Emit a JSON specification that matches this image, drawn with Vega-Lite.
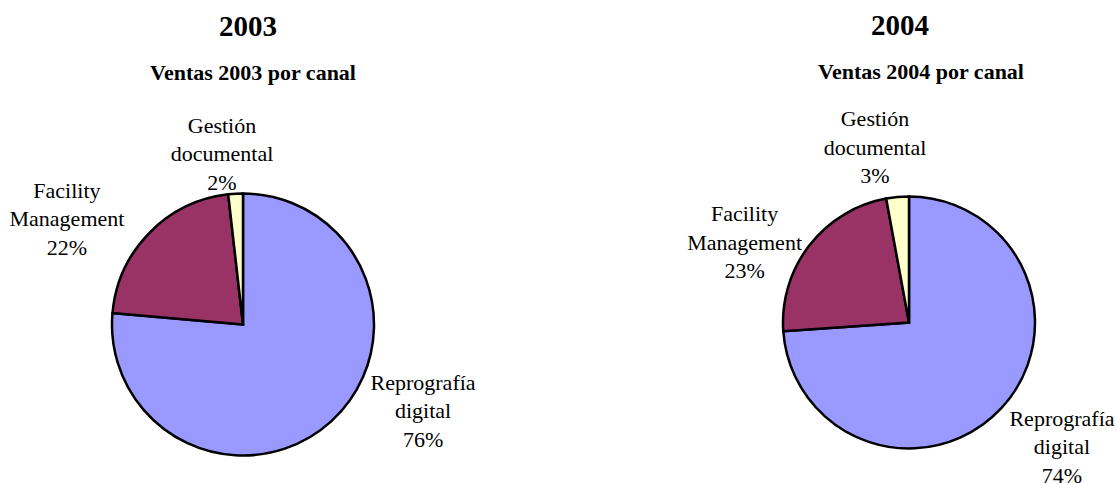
{
  "$schema": "https://vega.github.io/schema/vega-lite/v6.json",
  "padding": {"left": 0, "right": 0, "top": 11.5, "bottom": 0},
  "autosize": {"type": "pad"},
  "background": "white",
  "config": {
    "view": {"stroke": null},
    "title": {"font": "Liberation Serif", "fontWeight": "bold", "color": "black", "frame": "group"}
  },
  "data": {"values": [
    {"anio": 2003, "canal": "Reprografía digital", "valor": 76.4, "orden": 1},
    {"anio": 2003, "canal": "Facility Management", "valor": 21.8, "orden": 2},
    {"anio": 2003, "canal": "Gestión documental", "valor": 1.8, "orden": 3},
    {"anio": 2004, "canal": "Reprografía digital", "valor": 73.9, "orden": 1},
    {"anio": 2004, "canal": "Facility Management", "valor": 23.2, "orden": 2},
    {"anio": 2004, "canal": "Gestión documental", "valor": 2.9, "orden": 3}
  ]},
  "spacing": 201,
  "hconcat": [
    {
      "title": {"text": "2003", "fontSize": 29, "anchor": "start", "align": "center", "dx": 248, "offset": 20},
      "vconcat": [
        {
          "title": {"text": "Ventas 2003 por canal", "fontSize": 22, "anchor": "middle", "dx": 10, "offset": 30},
          "width": 486,
          "height": 300,
          "transform": [
            {"filter": "datum.anio == 2003"},
            {"calculate": "replace(datum.canal, ' ', '\\n') + '\\n' + format(datum.valor, '.0f') + '%'", "as": "etiqueta"}
          ],
          "layer": [
            {
              "mark": {"type": "arc", "outerRadius": 131, "stroke": "black", "strokeWidth": 2.5},
              "encoding": {
                "theta": {"field": "valor", "type": "quantitative", "stack": true},
                "order": {"field": "orden", "type": "quantitative", "sort": "ascending"},
                "color": {"field": "canal", "type": "nominal", "legend": null,
                  "scale": {"domain": ["Reprografía digital", "Facility Management", "Gestión documental"], "range": ["#9999FF", "#993366", "#FFFFCC"]}}
              }
            },
            {
              "mark": {"type": "text", "font": "Liberation Serif", "fontSize": 22, "color": "black",
                "lineBreak": "\n", "lineHeight": 28.5, "align": "center", "baseline": "alphabetic", "radius": 160,
                "dx": {"expr": "datum.orden == 1 ? 72 : datum.orden == 2 ? -61.5 : -12"},
                "dy": {"expr": "datum.orden == 1 ? -53 : datum.orden == 2 ? -15 : -32"}},
              "encoding": {
                "theta": {"field": "valor", "type": "quantitative", "stack": true},
                "order": {"field": "orden", "type": "quantitative", "sort": "ascending"},
                "text": {"field": "etiqueta", "type": "nominal"}
              }
            }
          ]
        }
      ]
    },
    {
      "title": {"text": "2004", "fontSize": 29, "anchor": "start", "align": "center", "dx": 199, "offset": 20},
      "vconcat": [
        {
          "title": {"text": "Ventas 2004 por canal", "fontSize": 22, "anchor": "middle", "dx": 12, "offset": 24},
          "width": 416,
          "height": 296,
          "transform": [
            {"filter": "datum.anio == 2004"},
            {"calculate": "replace(datum.canal, ' ', '\\n') + '\\n' + format(datum.valor, '.0f') + '%'", "as": "etiqueta"}
          ],
          "layer": [
            {
              "mark": {"type": "arc", "outerRadius": 126, "stroke": "black", "strokeWidth": 2.5},
              "encoding": {
                "theta": {"field": "valor", "type": "quantitative", "stack": true},
                "order": {"field": "orden", "type": "quantitative", "sort": "ascending"},
                "color": {"field": "canal", "type": "nominal", "legend": null,
                  "scale": {"domain": ["Reprografía digital", "Facility Management", "Gestión documental"], "range": ["#9999FF", "#993366", "#FFFFCC"]}}
              }
            },
            {
              "mark": {"type": "text", "font": "Liberation Serif", "fontSize": 22, "color": "black",
                "lineBreak": "\n", "lineHeight": 28.5, "align": "center", "baseline": "alphabetic", "radius": 160,
                "dx": {"expr": "datum.orden == 1 ? 36 : datum.orden == 2 ? -38 : -19.5"},
                "dy": {"expr": "datum.orden == 1 ? -6 : datum.orden == 2 ? -3 : -37"}},
              "encoding": {
                "theta": {"field": "valor", "type": "quantitative", "stack": true},
                "order": {"field": "orden", "type": "quantitative", "sort": "ascending"},
                "text": {"field": "etiqueta", "type": "nominal"}
              }
            }
          ]
        }
      ]
    }
  ]
}
